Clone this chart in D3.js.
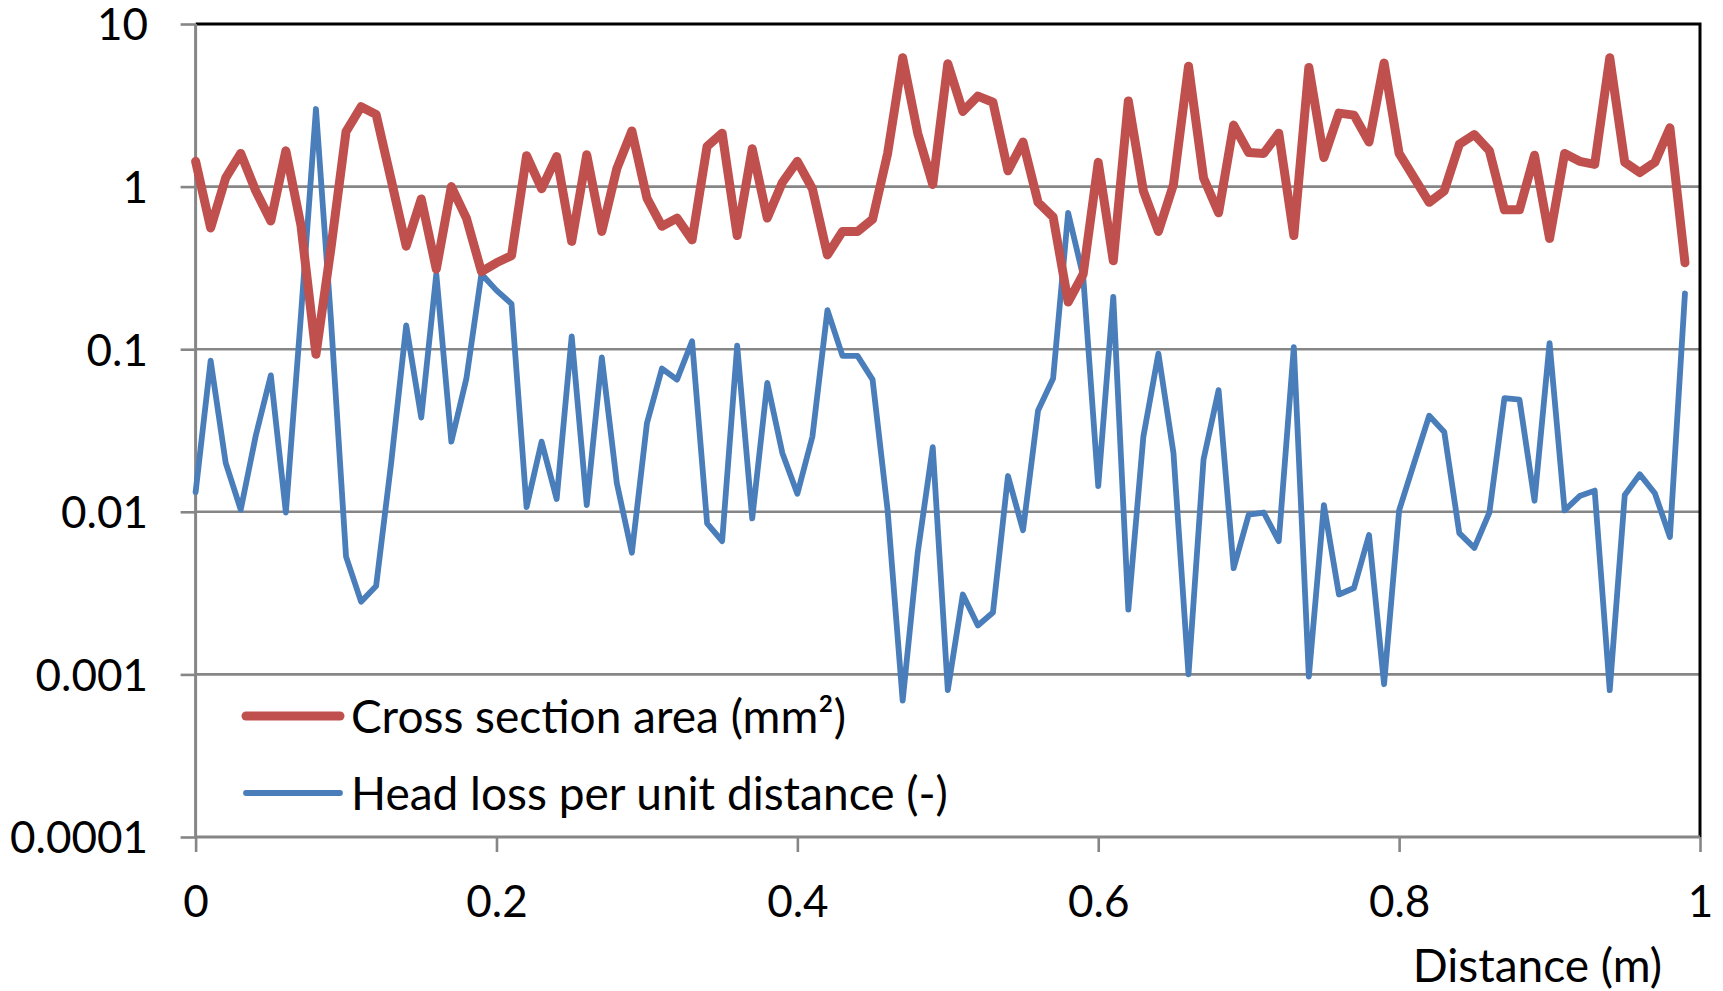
<!DOCTYPE html>
<html>
<head>
<meta charset="utf-8">
<script src="https://cdn.jsdelivr.net/npm/d3@7"></script>
<style>
  html, body { margin: 0; padding: 0; background: #fff; }
  svg { display: block; }
  text { font-family: Lato, "Open Sans", sans-serif; fill: #000; }
</style>
</head>
<body>
<svg id="chart" width="1723" height="991"></svg>
<script>
// ---- data ----
const distance = d3.range(100).map(i => +(i * 0.01).toFixed(2));
const crossSection = [
  1.43, 0.556, 1.13, 1.6, 0.94, 0.615, 1.66, 0.58, 0.093, 0.42,
  2.18, 3.1, 2.78, 1.1, 0.43, 0.84, 0.31, 1.0, 0.64, 0.30,
  0.34, 0.376, 1.55, 0.97, 1.53, 0.46, 1.57, 0.53, 1.29, 2.2,
  0.85, 0.57, 0.64, 0.47, 1.77, 2.13, 0.5, 1.71, 0.64, 1.06,
  1.43, 0.97, 0.38, 0.53, 0.53, 0.63, 1.6, 6.2, 2.13, 1.03,
  5.7, 2.9, 3.6, 3.3, 1.25, 1.88, 0.80, 0.65, 0.195, 0.29,
  1.41, 0.35, 3.36, 0.94, 0.53, 1.03, 5.5, 1.13, 0.69, 2.39,
  1.62, 1.6, 2.13, 0.50, 5.4, 1.51, 2.83, 2.75, 1.88, 5.75,
  1.6, 1.13, 0.80, 0.94, 1.82, 2.09, 1.66, 0.72, 0.72, 1.56,
  0.48, 1.6, 1.43, 1.37, 6.2, 1.41, 1.22, 1.41, 2.3, 0.34
];
const headLoss = [
  0.0132, 0.085, 0.020, 0.0103, 0.0294, 0.069, 0.0099, 0.16, 3.0, 0.15,
  0.0053, 0.0028, 0.0035, 0.02, 0.14, 0.038, 0.29, 0.027, 0.066, 0.29,
  0.23, 0.19, 0.0107, 0.027, 0.012, 0.12, 0.011, 0.089, 0.015, 0.0056,
  0.035, 0.076, 0.065, 0.112, 0.0085, 0.0066, 0.105, 0.0091, 0.062, 0.023,
  0.0129, 0.029, 0.174, 0.091, 0.091, 0.065, 0.0102, 0.00069, 0.0056, 0.025,
  0.0008, 0.0031, 0.002, 0.0024, 0.0166, 0.0077, 0.042, 0.066, 0.69, 0.28,
  0.0144, 0.21, 0.0025, 0.029, 0.094, 0.023, 0.001, 0.021, 0.056, 0.0045,
  0.0096, 0.0099, 0.0066, 0.103, 0.00097, 0.011, 0.0031, 0.0034, 0.0072, 0.00087,
  0.0102, 0.02, 0.039, 0.031, 0.0074, 0.006, 0.0099, 0.05, 0.049, 0.0117,
  0.109, 0.0102, 0.0125, 0.0135, 0.0008, 0.0127, 0.017, 0.013, 0.007, 0.22
];
const xTicks = [0, 0.2, 0.4, 0.6, 0.8, 1];
const xTickLabels = ["0", "0.2", "0.4", "0.6", "0.8", "1"];
const yTicks = [0.0001, 0.001, 0.01, 0.1, 1, 10];
const yTickLabels = ["0.0001", "0.001", "0.01", "0.1", "1", "10"];
const seriesNames = ["Cross section area (mm\u00B2)", "Head loss per unit distance (-)"];
const seriesColors = ["#C0504D", "#4A7EBB"];

// ---- layout ----
const L = 195.6, R = 1700, T = 24, B = 837;
const FS_TICK = 44, FS_TEXT = 46;
const svg = d3.select("#chart");
const x = d3.scaleLinear().domain([0, 1]).range([L, R]);
const y = d3.scaleLog().domain([0.0001, 10]).range([B, T]);
const grid = "#868686";

// gridlines
svg.append("g").selectAll("line").data(yTicks.filter(v => v > 0.0001 && v < 10)).join("line")
  .attr("x1", L).attr("x2", R).attr("y1", d => y(d)).attr("y2", d => y(d))
  .attr("stroke", grid).attr("stroke-width", 2.6);

// plot border top/right (black)
svg.append("path").attr("d", `M${L},${T}H${R}V${B}`)
  .attr("fill", "none").attr("stroke", "#000").attr("stroke-width", 3);

// y axis
const yAxis = d3.axisLeft(y).tickValues(yTicks).tickSize(15).tickFormat((d, i) => yTickLabels[i]).tickPadding(0);
const gy = svg.append("g").attr("transform", `translate(${L},0)`).call(yAxis);
gy.select(".domain").attr("stroke", grid).attr("stroke-width", 3).attr("d", `M0,${T}V${B}`);
gy.selectAll(".tick line").attr("stroke", grid).attr("stroke-width", 2.6);
gy.selectAll(".tick text").attr("x", 148 - L).attr("dy", "0.36em")
  .style("font-size", FS_TICK + "px").attr("font-family", null);

// x axis
const xAxis = d3.axisBottom(x).tickValues(xTicks).tickSize(15).tickFormat((d, i) => xTickLabels[i]);
const gx = svg.append("g").attr("transform", `translate(0,${B})`).call(xAxis);
gx.select(".domain").attr("stroke", grid).attr("stroke-width", 3).attr("d", `M${L},0H${R}`);
gx.selectAll(".tick line").attr("stroke", grid).attr("stroke-width", 2.6);
gx.selectAll(".tick text").attr("y", 64).attr("dy", "0.36em")
  .style("font-size", FS_TICK + "px").attr("font-family", null);

svg.append("text").attr("x", 1662).attr("y", 965).attr("dy", "0.36em")
  .attr("text-anchor", "end").style("font-size", FS_TEXT + "px").text("Distance (m)");

// lines
const line = d3.line().x((d, i) => x(distance[i])).y(d => y(d));
svg.append("path").datum(headLoss).attr("d", line)
  .attr("fill", "none").attr("stroke", seriesColors[1]).attr("stroke-width", 5.8)
  .attr("stroke-linejoin", "round").attr("stroke-linecap", "round");
svg.append("path").datum(crossSection).attr("d", line)
  .attr("fill", "none").attr("stroke", seriesColors[0]).attr("stroke-width", 9)
  .attr("stroke-linejoin", "round").attr("stroke-linecap", "round");

// legend
const legY = [716, 793];
const legW = [9, 5.8];
const leg = svg.append("g");
seriesNames.forEach((name, i) => {
  leg.append("line").attr("x1", 246).attr("x2", 340).attr("y1", legY[i]).attr("y2", legY[i])
    .attr("stroke", seriesColors[i]).attr("stroke-width", legW[i]).attr("stroke-linecap", "round");
  leg.append("text").attr("x", 351).attr("y", legY[i]).attr("dy", "0.36em")
    .style("font-size", FS_TEXT + "px").text(name);
});
</script>
</body>
</html>
